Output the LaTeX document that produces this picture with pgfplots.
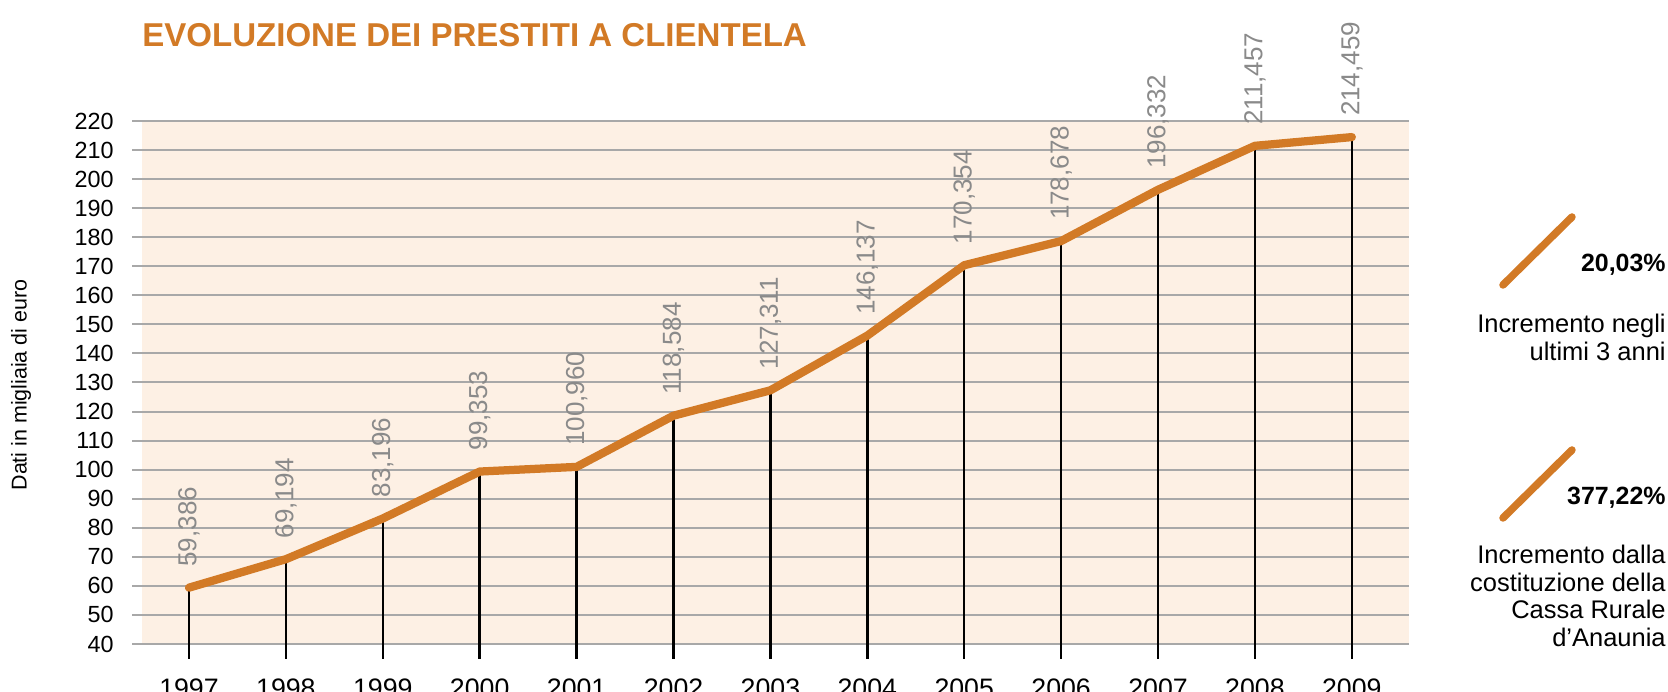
\documentclass[border=0pt]{standalone}
\usepackage{fontspec}
\setmainfont{Liberation Sans}
\usepackage{pgfplots}
\pgfplotsset{compat=1.18}
\usepackage{pgfplotstable}
\definecolor{orng}{HTML}{D27A26}
\definecolor{bgpeach}{HTML}{FDF0E4}
\definecolor{gridgray}{HTML}{A8A8A8}
\definecolor{lblgray}{HTML}{8A8A8A}

\pgfplotstableread{
x y label
1997 59.386 59,386
1998 69.194 69,194
1999 83.196 83,196
2000 99.353 99,353
2001 100.960 100,960
2002 118.584 118,584
2003 127.311 127,311
2004 146.137 146,137
2005 170.354 170,354
2006 178.678 178,678
2007 196.332 196,332
2008 211.457 211,457
2009 214.459 214,459
}\data

\begin{document}
\begin{tikzpicture}
\begin{axis}[
  at={(28.4mm,-128.8mm)}, anchor=south west,
  scale only axis, width=253.4mm, height=104.6mm,
  xmin=1996.515, xmax=2009.59, ymin=40, ymax=220,
  clip=false,
  axis background/.style={fill=bgpeach},
  axis lines*=left, axis line style={draw=none},
  ytick={40,50,...,220},
  ymajorgrids, grid style={gridgray, line width=0.4mm},
  ytick align=outside, ytick pos=left, major tick length=2mm,
  ytick style={gridgray, line width=0.4mm},
  xtick={1997,1998,1999,2000,2001,2002,2003,2004,2005,2006,2007,2008,2009},
  xticklabels={1997,1998,1999,2000,2001,2002,2003,2004,2005,2006,2007,2008,2009},
  xtick style={draw=none},
  /pgf/number format/assume math mode=true,
  yticklabel style={font=\fontsize{13.3}{13.3}\selectfont, inner sep=0pt, anchor=east, xshift=-3.6mm},
  xticklabel style={font=\fontsize{15.2}{15.2}\selectfont, inner sep=0pt, anchor=north, yshift=-6.8mm},
]
\addplot[draw=none, mark=none,
  error bars/.cd, y dir=minus, y explicit, error mark=none,
  error bar style={draw=black, line width=0.5mm}]
  table[x=x, y=y, y error expr=\thisrow{y}-34.84]{\data};
\addplot[orng, line width=1.65mm, line join=round, line cap=round, mark=none,
  nodes near coords, point meta=explicit symbolic,
  every node near coord/.append style={rotate=90, anchor=west, inner xsep=3.4mm, inner ysep=0pt,
    text=lblgray, font=\fontsize{14.8}{14.8}\selectfont}]
  table[x=x, y=y, meta=label]{\data};
\end{axis}
\begin{scope}[x=0.2mm, y=-0.2mm]
  \node[anchor=west, inner sep=0pt, text=orng, font=\fontsize{18.8}{18.8}\selectfont\bfseries] at (142,35) {EVOLUZIONE DEI PRESTITI A CLIENTELA};
  \node[rotate=90, inner sep=0pt, font=\fontsize{12.2}{12.2}\selectfont] at (21,385) {Dati in migliaia di euro};
  \draw[orng, line width=1.5mm, line cap=round] (1503,285) -- (1572,217);
  \node[anchor=east, inner sep=0pt, font=\fontsize{14.2}{14.2}\selectfont\bfseries] at (1666,265) {20,03\%};
  \node[anchor=east, inner sep=0pt, align=right, font=\fontsize{14.5}{15.9}\selectfont] at (1666,337) {Incremento negli\\ultimi 3 anni};
  \draw[orng, line width=1.5mm, line cap=round] (1503,518) -- (1572,450);
  \node[anchor=east, inner sep=0pt, font=\fontsize{14.2}{14.2}\selectfont\bfseries] at (1666,498) {377,22\%};
  \node[anchor=east, inner sep=0pt, align=right, font=\fontsize{14.5}{15.6}\selectfont] at (1666,596) {Incremento dalla\\costituzione della\\Cassa Rurale\\d'Anaunia};
\end{scope}
\pgfresetboundingbox
\useasboundingbox (0,0) rectangle (333.6mm,-138.4mm);
\end{tikzpicture}
\end{document}
